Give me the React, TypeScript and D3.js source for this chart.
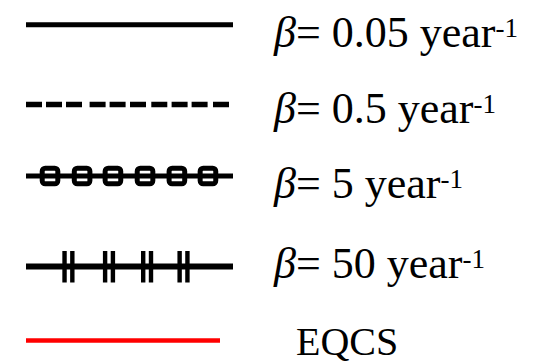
import React, { useEffect, useRef } from "react";
import * as d3 from "d3";

// Legend entries: decay rate β (per year) and the reference case
const betaValues = ["0.05", "0.5", "5", "50"];
const betaStyles = ["solid", "dashed", "square", "tick"];
const referenceLabel = "EQCS";

// Marker placement along the legend sample, as a fraction of its length
const squareMarkers = [0.116, 0.271, 0.42, 0.575, 0.729, 0.879];
const tickMarkers = [0.205, 0.401, 0.585, 0.761];

// Layout
const W = 558;
const H = 364;
const lineY = [24.8, 104.5, 176, 266.5, 340.5];
const textY = [46.7, 123.3, 197.7, 278.3, 355];
const textX = 274;
const SERIF = "'Liberation Serif', 'Times New Roman', Times, serif";

const sampleX = d3.scaleLinear().domain([0, 1]).range([26, 233]);
const dashPattern = "16 4 16 4 16 7.6 16 4 16 4.4 16 5.3 16 4.3 16 4 16 5.4 16";

export default function App() {
  const ref = useRef<SVGSVGElement | null>(null);

  useEffect(() => {
    const svg = d3.select(ref.current);
    svg.selectAll("*").remove();
    const hLine = d3.line();

    betaValues.forEach((v, i) => {
      const y = lineY[i];
      const kind = betaStyles[i];
      const g = svg.append("g");
      const x0 = sampleX(0);
      const x1 = kind === "dashed" ? sampleX(203 / 207) : sampleX(1);
      const d = hLine([[x0, y], [x1, y]]) as string;

      if (kind === "solid") {
        g.append("path").attr("d", d).attr("stroke", "#000").attr("stroke-width", 5).attr("fill", "none");
      } else if (kind === "dashed") {
        g.append("path").attr("d", d).attr("stroke", "#000").attr("stroke-width", 5.5)
          .attr("fill", "none").attr("stroke-dasharray", dashPattern);
      } else if (kind === "square") {
        g.selectAll("rect").data(squareMarkers).join("rect")
          .attr("x", (f) => sampleX(f) - 7.8).attr("y", y - 7.8)
          .attr("width", 15.6).attr("height", 15.6).attr("rx", 3)
          .attr("fill", "#fff").attr("stroke", "#000").attr("stroke-width", 5);
        g.append("path").attr("d", d).attr("stroke", "#000").attr("stroke-width", 5.2).attr("fill", "none");
      } else {
        g.append("path").attr("d", d).attr("stroke", "#000").attr("stroke-width", 6).attr("fill", "none");
        tickMarkers.forEach((f) => {
          [-3.9, 3.9].forEach((o) => {
            g.append("rect").attr("x", sampleX(f) + o - 2.2).attr("y", y - 15.5)
              .attr("width", 4.4).attr("height", 31.5).attr("fill", "#000");
          });
        });
      }

      const t = g.append("text").attr("x", textX).attr("y", textY[i])
        .style("font-family", SERIF).style("font-size", "44px").attr("fill", "#000");
      t.append("tspan").style("font-style", "italic").text("β");
      t.append("tspan").text(`= ${v} year`);
      t.append("tspan").style("font-size", "27px").attr("dy", -10).text("-1");
    });

    svg.append("path")
      .attr("d", hLine([[sampleX(0), lineY[4]], [sampleX(194 / 207), lineY[4]]]) as string)
      .attr("stroke", "#ff0000").attr("stroke-width", 4.5).attr("fill", "none");
    svg.append("text").attr("x", 296).attr("y", textY[4])
      .style("font-family", SERIF).style("font-size", "40px").attr("fill", "#000")
      .text(referenceLabel);
  }, []);

  return <svg ref={ref} width={W} height={H} style={{ position: "absolute", left: 0, top: 0 }} />;
}
